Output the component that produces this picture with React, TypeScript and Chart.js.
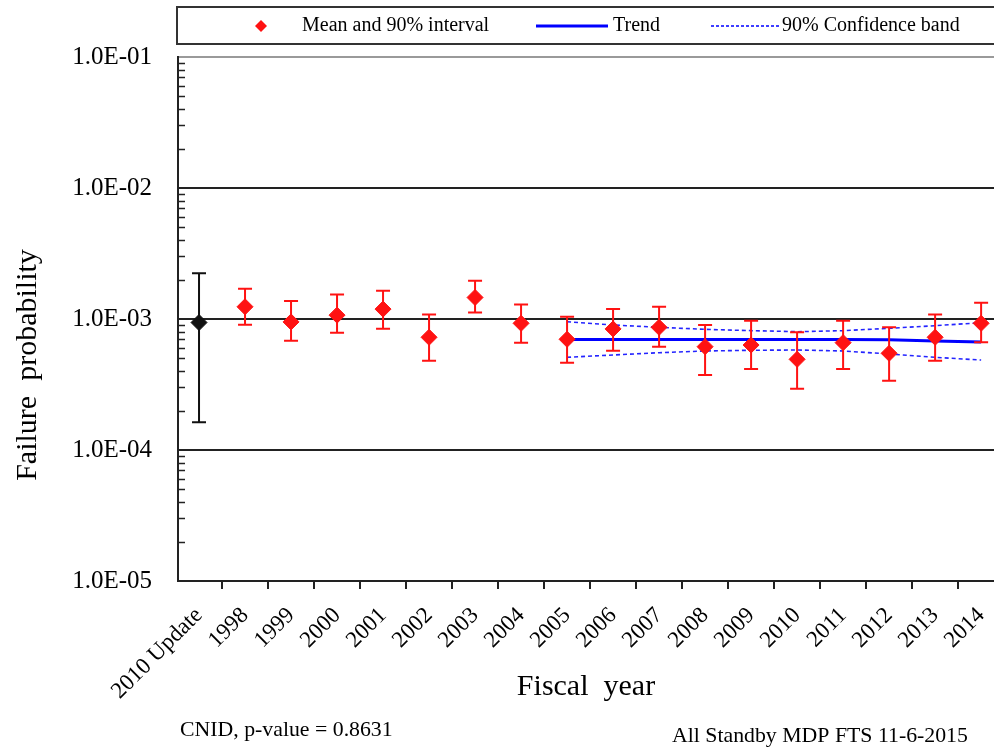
import React, { useEffect, useRef } from 'react';
import { Chart, registerables } from 'chart.js';

Chart.register(...registerables);

// ---------- data ----------
const categories = [
  '2010 Update', '1998', '1999', '2000', '2001', '2002', '2003', '2004', '2005',
  '2006', '2007', '2008', '2009', '2010', '2011', '2012', '2013', '2014',
];

const updateLabel = '2010 Update';
const updateMean = 0.94e-3;
const updateLower = 1.63e-4;
const updateUpper = 2.23e-3;

const yearLabels = [
  '1998', '1999', '2000', '2001', '2002', '2003', '2004', '2005',
  '2006', '2007', '2008', '2009', '2010', '2011', '2012', '2013', '2014',
];
const yearMeans = [
  1.24e-3, 0.95e-3, 1.07e-3, 1.19e-3, 0.725e-3, 1.46e-3, 0.927e-3, 0.70e-3,
  0.84e-3, 0.864e-3, 0.615e-3, 0.633e-3, 0.492e-3, 0.66e-3, 0.547e-3, 0.725e-3, 0.927e-3,
];
const yearLowers = [
  0.905e-3, 0.683e-3, 0.786e-3, 0.843e-3, 0.481e-3, 1.12e-3, 0.66e-3, 0.464e-3,
  0.573e-3, 0.615e-3, 0.374e-3, 0.415e-3, 0.294e-3, 0.415e-3, 0.338e-3, 0.481e-3, 0.664e-3,
];
const yearUppers = [
  1.70e-3, 1.37e-3, 1.54e-3, 1.64e-3, 1.08e-3, 1.96e-3, 1.29e-3, 1.04e-3,
  1.19e-3, 1.24e-3, 0.90e-3, 0.97e-3, 0.791e-3, 0.97e-3, 0.864e-3, 1.08e-3, 1.33e-3,
];

const trendYears = ['2005', '2006', '2007', '2008', '2009', '2010', '2011', '2012', '2013', '2014'];
const trendValues = [0.698e-3, 0.698e-3, 0.698e-3, 0.698e-3, 0.698e-3, 0.698e-3, 0.698e-3, 0.695e-3, 0.68e-3, 0.667e-3];
const bandUpper = [0.954e-3, 0.90e-3, 0.864e-3, 0.834e-3, 0.815e-3, 0.80e-3, 0.815e-3, 0.849e-3, 0.889e-3, 0.937e-3];
const bandLower = [0.51e-3, 0.531e-3, 0.553e-3, 0.57e-3, 0.577e-3, 0.58e-3, 0.57e-3, 0.541e-3, 0.51e-3, 0.486e-3];

const yDecades = [1e-5, 1e-4, 1e-3, 1e-2, 1e-1];

const legendLabels = ['Mean and 90% interval', 'Trend', '90% Confidence band'];
const xTitle = 'Fiscal  year';
const yTitle = 'Failure  probability';
const noteLeft = 'CNID, p-value = 0.8631';
const noteRight = 'All Standby MDP FTS 11-6-2015';

// ---------- styling ----------
const SERIF = '"Liberation Serif", "Times New Roman", Times, serif';
const RED = 'rgb(255,18,18)';
const BLUE = '#0000ff';
const DARK = '#222222';

const idx = (label: string) => categories.indexOf(label);

const fmtExp = (v: number) => {
  const e = Math.round(Math.log10(v));
  return `1.0E${e < 0 ? '-' : '+'}${String(Math.abs(e)).padStart(2, '0')}`;
};

const decorPlugin = {
  id: 'decor',
  beforeDatasetDraw(chart: any, args: any) {
    const { ctx } = chart;
    const x = chart.scales.x;
    const y = chart.scales.y;
    const bar = (xi: number, lo: number, hi: number, color: string) => {
      const px = x.getPixelForValue(xi);
      const pl = y.getPixelForValue(lo);
      const ph = y.getPixelForValue(hi);
      ctx.save();
      ctx.strokeStyle = color;
      ctx.lineWidth = 2;
      ctx.beginPath();
      ctx.moveTo(px, pl);
      ctx.lineTo(px, ph);
      ctx.moveTo(px - 7, pl);
      ctx.lineTo(px + 7, pl);
      ctx.moveTo(px - 7, ph);
      ctx.lineTo(px + 7, ph);
      ctx.stroke();
      ctx.restore();
    };
    if (args.index === 0) {
      yearLabels.forEach((lab, i) => bar(idx(lab), yearLowers[i], yearUppers[i], RED));
    } else if (args.index === 1) {
      bar(idx(updateLabel), updateLower, updateUpper, '#111');
    }
  },
  afterDraw(chart: any) {
    const { ctx, chartArea } = chart;
    const y = chart.scales.y;
    ctx.save();
    // minor ticks on y axis (inward)
    ctx.strokeStyle = DARK;
    ctx.lineWidth = 1.5;
    ctx.beginPath();
    for (let d = 0; d < yDecades.length - 1; d++) {
      for (let k = 2; k <= 9; k++) {
        const py = Math.round(y.getPixelForValue(yDecades[d] * k)) + 0.5;
        ctx.moveTo(chartArea.left, py);
        ctx.lineTo(chartArea.left + 7, py);
      }
    }
    ctx.stroke();

    // legend box
    ctx.strokeStyle = '#333';
    ctx.lineWidth = 2;
    ctx.strokeRect(chartArea.left - 1, 7, 840, 37);
    const ly = 26;
    ctx.fillStyle = RED;
    ctx.beginPath();
    ctx.moveTo(261, ly - 6);
    ctx.lineTo(267, ly);
    ctx.lineTo(261, ly + 6);
    ctx.lineTo(255, ly);
    ctx.closePath();
    ctx.fill();
    ctx.strokeStyle = BLUE;
    ctx.lineWidth = 3;
    ctx.beginPath();
    ctx.moveTo(536, ly);
    ctx.lineTo(608, ly);
    ctx.stroke();
    ctx.lineWidth = 1.5;
    ctx.setLineDash([3, 2]);
    ctx.beginPath();
    ctx.moveTo(711, ly);
    ctx.lineTo(780, ly);
    ctx.stroke();
    ctx.setLineDash([]);
    ctx.fillStyle = '#000';
    ctx.font = `20px ${SERIF}`;
    ctx.textBaseline = 'middle';
    ctx.textAlign = 'left';
    ctx.fillText(legendLabels[0], 302, ly);
    ctx.fillText(legendLabels[1], 613, ly);
    ctx.fillText(legendLabels[2], 782, ly);

    // axis titles
    ctx.font = `30px ${SERIF}`;
    ctx.textBaseline = 'alphabetic';
    ctx.textAlign = 'center';
    ctx.fillText(xTitle, (chartArea.left + chartArea.right) / 2, 695);
    ctx.save();
    ctx.translate(36, 365);
    ctx.rotate(-Math.PI / 2);
    ctx.fillText(yTitle, 0, 0);
    ctx.restore();

    // footnotes
    ctx.font = `21.8px ${SERIF}`;
    ctx.textAlign = 'left';
    ctx.fillText(noteLeft, 180, 736);
    ctx.fillText(noteRight, 672, 742);
    ctx.restore();
  },
};

export default function App() {
  const canvasRef = useRef<HTMLCanvasElement | null>(null);

  useEffect(() => {
    const canvas = canvasRef.current;
    if (!canvas) return;
    const chart = new Chart(canvas, {
      type: 'scatter',
      data: {
        datasets: [
          {
            label: legendLabels[0],
            data: yearLabels.map((lab, i) => ({ x: idx(lab), y: yearMeans[i] })),
            pointStyle: 'rectRot',
            pointRadius: 8,
            borderWidth: 1,
            backgroundColor: RED,
            borderColor: RED,
            showLine: false,
          },
          {
            label: updateLabel,
            data: [{ x: idx(updateLabel), y: updateMean }],
            pointStyle: 'rectRot',
            pointRadius: 8,
            borderWidth: 1,
            backgroundColor: '#111',
            borderColor: '#111',
            showLine: false,
          },
          {
            label: legendLabels[1],
            data: trendYears.map((lab, i) => ({ x: idx(lab), y: trendValues[i] })),
            showLine: true,
            borderColor: BLUE,
            borderWidth: 3,
            pointRadius: 0,
            tension: 0,
          },
          {
            label: legendLabels[2],
            data: trendYears.map((lab, i) => ({ x: idx(lab), y: bandUpper[i] })),
            showLine: true,
            borderColor: '#2424ff',
            borderWidth: 1.6,
            borderDash: [4, 3],
            pointRadius: 0,
            tension: 0,
          },
          {
            label: legendLabels[2] + ' lower',
            data: trendYears.map((lab, i) => ({ x: idx(lab), y: bandLower[i] })),
            showLine: true,
            borderColor: '#2424ff',
            borderWidth: 1.6,
            borderDash: [4, 3],
            pointRadius: 0,
            tension: 0,
          },
        ],
      },
      options: {
        animation: false,
        responsive: false,
        events: [],
        layout: { autoPadding: false, padding: { top: 57, left: 0, right: 0, bottom: 0 } },
        plugins: {
          legend: { display: false },
          tooltip: { enabled: false },
          title: { display: false },
        },
        scales: {
          x: {
            type: 'linear',
            min: -0.457,
            max: 17.28,
            afterBuildTicks: (scale: any) => {
              scale.ticks = categories.map((_, i) => ({ value: i }));
            },
            afterFit: (scale: any) => {
              scale.height = 168;
              scale.paddingLeft = 0;
              scale.paddingRight = 0;
            },
            ticks: {
              autoSkip: false,
              minRotation: 45,
              maxRotation: 45,
              padding: 13,
              color: '#000',
              font: { family: SERIF, size: 23 },
              callback: (v: any) => categories[Math.round(Number(v))] ?? '',
            },
            grid: {
              display: true,
              drawOnChartArea: false,
              drawTicks: true,
              tickLength: 8,
              offset: true,
              color: DARK,
              lineWidth: 2,
            },
            border: { display: true, color: DARK, width: 2 },
          },
          y: {
            type: 'logarithmic',
            min: 1e-5,
            max: 1e-1,
            afterBuildTicks: (scale: any) => {
              scale.ticks = yDecades.map((v) => ({ value: v, major: true }));
            },
            afterFit: (scale: any) => {
              scale.width = 178;
              scale.paddingTop = 0;
              scale.paddingBottom = 0;
            },
            ticks: {
              padding: 26,
              color: '#000',
              font: { family: SERIF, size: 25 },
              callback: (v: any) => fmtExp(Number(v)),
            },
            grid: {
              drawTicks: false,
              lineWidth: 2,
              color: (c: any) => (c.tick && c.tick.value > 0.05 ? '#9a9a9a' : DARK),
            },
            border: { display: true, color: DARK, width: 2 },
          },
        },
      },
      plugins: [decorPlugin],
    } as any);
    return () => chart.destroy();
  }, []);

  return (
    <div style={{ position: 'absolute', left: 0, top: 0, width: 994, height: 749, background: '#fff' }}>
      <canvas ref={canvasRef} width={994} height={749} style={{ display: 'block' }} />
    </div>
  );
}
